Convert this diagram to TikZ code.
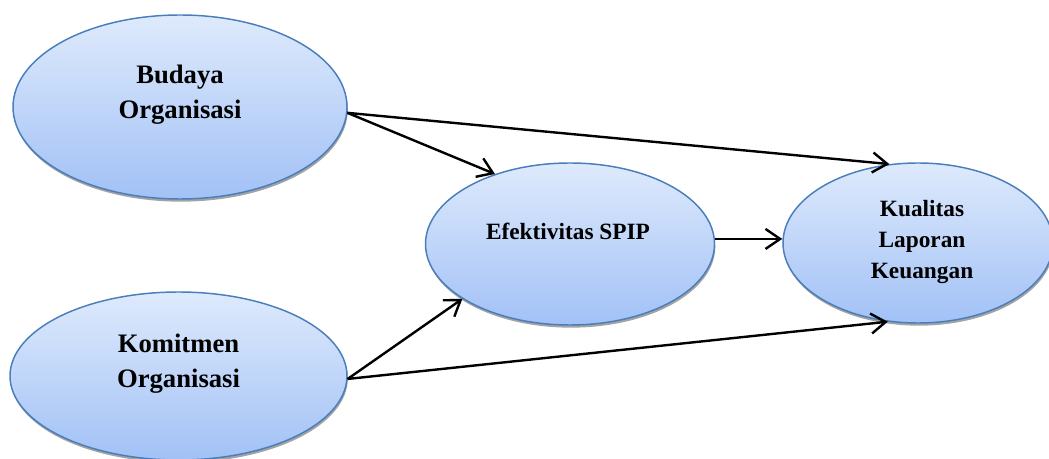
\documentclass[tikz,border=0pt]{standalone}
\usepackage{fontspec}
\setmainfont{Liberation Serif}
\usetikzlibrary{shapes.geometric, arrows.meta, shadows}
\definecolor{atas}{RGB}{222,234,252}
\definecolor{bawah}{RGB}{162,193,246}
\definecolor{garis}{RGB}{74,126,187}
\tikzstyle{variabel} = [ellipse, draw=garis, line width=1.1pt, top color=atas, bottom color=bawah, drop shadow={shadow xshift=0.6pt, shadow yshift=-2pt, fill=black!45, opacity=0.8}, inner sep=0pt]
\tikzstyle{teksbesar} = [align=center, font=\fontsize{20}{26.5}\selectfont\bfseries]
\tikzstyle{tekskecil} = [align=center, font=\fontsize{17.5}{23.25}\selectfont\bfseries]
\tikzstyle{arrow} = [line width=1.8pt, -{Straight Barb[length=11pt, width=15pt]}]

\begin{document}
\begin{tikzpicture}[x=0.75pt, y=-0.75pt]
					\useasboundingbox (0,0) rectangle (1049,459);
					\clip (0,0) rectangle (1049,459);
					\node[variabel, minimum width=250.5pt, minimum height=138pt] (budaya) at (180,107) {};
					\node[variabel, minimum width=252.75pt, minimum height=126pt] (komitmen) at (178.5,376) {};
					\node[variabel, minimum width=216.75pt, minimum height=121.5pt] (spip) at (570,244) {};
					\node[variabel, minimum width=202.5pt, minimum height=120pt] (kualitas) at (918,243) {};
					\node[teksbesar] (budayateks) at (180,95) {Budaya\\Organisasi};
					\node[teksbesar] (komitmenteks) at (178.5,364) {Komitmen\\Organisasi};
					\node[tekskecil] (spipteks) at (568,231) {Efektivitas SPIP};
					\node[tekskecil] (kualitasteks) at (922,242) {Kualitas\\Laporan\\Keuangan};
					\draw[arrow] (budaya.-2) -- (spip.137);
					\draw[arrow] (budaya.-2) -- (kualitas.110);
					\draw[arrow] (komitmen.-1.5) -- (spip.207);
					\draw[arrow] (komitmen.-1.5) -- (kualitas.249);
					\draw[arrow] (spip.2) -- (spip.2 -| kualitas.west);
				\end{tikzpicture}
\end{document}
